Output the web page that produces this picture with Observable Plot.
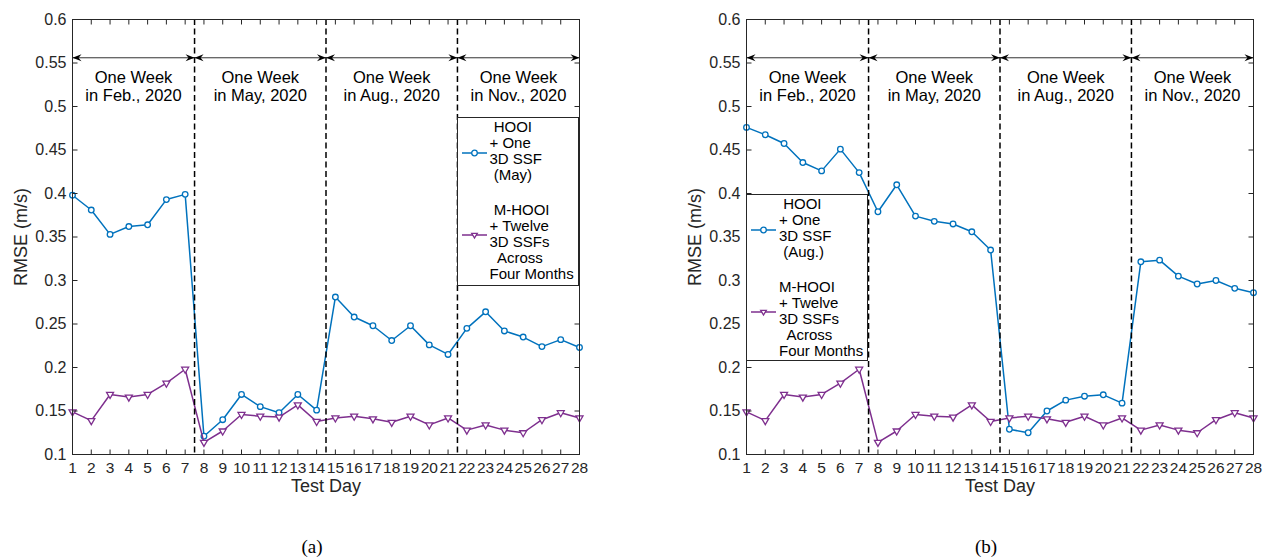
<!DOCTYPE html>
<html><head><meta charset="utf-8">
<script src="https://cdn.jsdelivr.net/npm/d3@7"></script>
<script src="https://cdn.jsdelivr.net/npm/@observablehq/plot@0.6"></script>
<style>
html,body{margin:0;padding:0;background:#fff;}
#page{position:relative;width:1265px;height:559px;overflow:hidden;font-family:"Liberation Sans",Arial,sans-serif;background:#fff;}
.panel{position:absolute;top:0;width:591px;height:500px;}
.legend{position:absolute;box-sizing:border-box;border:1px solid #262626;background:#fff;font-size:15px;line-height:16px;color:#000;}
.legend svg{position:absolute;left:0;overflow:visible;}
.legend .txt{position:absolute;left:32px;white-space:pre;}
.caption{position:absolute;top:534px;width:100px;text-align:center;font-family:"Liberation Serif","DejaVu Serif",serif;font-size:19px;line-height:26px;color:#000;}
</style></head>
<body><div id="page"></div>
<script>
// ---- data ----
const days = [1,2,3,4,5,6,7,8,9,10,11,12,13,14,15,16,17,18,19,20,21,22,23,24,25,26,27,28];
const hooiMay = [0.398,0.381,0.353,0.362,0.364,0.393,0.399,0.121,0.140,0.169,0.155,0.148,0.169,0.151,0.281,0.258,0.248,0.231,0.248,0.226,0.215,0.245,0.264,0.242,0.235,0.224,0.232,0.223];
const hooiAug = [0.476,0.4675,0.4575,0.4356,0.426,0.451,0.424,0.379,0.410,0.374,0.368,0.365,0.356,0.335,0.129,0.125,0.150,0.1625,0.167,0.1686,0.159,0.3215,0.3234,0.305,0.296,0.300,0.291,0.286];
const mhooi = [0.149,0.139,0.169,0.166,0.169,0.182,0.198,0.114,0.127,0.146,0.144,0.143,0.157,0.138,0.142,0.144,0.141,0.137,0.144,0.134,0.142,0.128,0.134,0.128,0.125,0.140,0.148,0.142];
const yTicks = [0.1,0.15,0.2,0.25,0.3,0.35,0.4,0.45,0.5,0.55,0.6];
const weekBounds = [1,7.5,14.5,21.5,28];
const weekLabels = ["One Week\nin Feb., 2020","One Week\nin May, 2020","One Week\nin Aug., 2020","One Week\nin Nov., 2020"];
const legendA = [[" HOOI","+ One","3D SSF"," (May)"],[" M-HOOI","+ Twelve","3D SSFs","  Across","Four Months"]];
const legendB = [[" HOOI","+ One","3D SSF"," (Aug.)"],["M-HOOI","+ Twelve","3D SSFs","  Across","Four Months"]];
const captions = ["(a)","(b)"];
const xLabel = "Test Day", yLabel = "RMSE (m/s)";

const BLUE = "#0072BD", PURPLE = "#7E2F8E", AX = "#262626";
const T = 5;
const tickUp = {draw(c){c.moveTo(0,0);c.lineTo(0,-T);}};
const tickDown = {draw(c){c.moveTo(0,0);c.lineTo(0,T);}};
const tickRight = {draw(c){c.moveTo(0,0);c.lineTo(T,0);}};
const tickLeft = {draw(c){c.moveTo(0,0);c.lineTo(-T,0);}};
const headRight = {draw(c){c.moveTo(0,0);c.lineTo(-9,-3.5);c.lineTo(-6,0);c.lineTo(-9,3.5);c.closePath();}};
const headLeft = {draw(c){c.moveTo(0,0);c.lineTo(9,-3.5);c.lineTo(6,0);c.lineTo(9,3.5);c.closePath();}};

function panel(blue) {
  const rows = days.map((d,i)=>({day:d, hooi:blue[i], mhooi:mhooi[i]}));
  const segs = weekLabels.map((t,i)=>({x1:weekBounds[i], x2:weekBounds[i+1], label:t}));
  const dashed = weekBounds.slice(1,-1);
  const arrowY = 0.556, labelY = 0.523;
  return Plot.plot({
    width:591, height:500, marginLeft:72, marginRight:12, marginTop:19, marginBottom:46,
    x:{type:"linear", domain:[1,28], label:null},
    y:{type:"linear", domain:[0.1,0.6], label:null},
    style:{fontFamily:'"Liberation Sans", Arial, sans-serif', fontSize:"16px", color:AX, background:"transparent", overflow:"visible"},
    marks:[
      Plot.line(rows,{x:"day",y:"hooi",stroke:BLUE,strokeWidth:1.5}),
      Plot.dot(rows,{x:"day",y:"hooi",r:2.8,stroke:BLUE,fill:"white",strokeWidth:1.3}),
      Plot.line(rows,{x:"day",y:"mhooi",stroke:PURPLE,strokeWidth:1.5}),
      Plot.dot(rows,{x:"day",y:"mhooi",symbol:"triangle",rotate:180,r:2.6,stroke:PURPLE,fill:"white",strokeWidth:1.3}),
      Plot.ruleX(dashed,{x:d=>d,stroke:"#000",strokeWidth:1.5,strokeDasharray:"6,3.5"}),
      Plot.link(segs,{x1:"x1",x2:"x2",y1:()=>arrowY,y2:()=>arrowY,stroke:"#333",strokeWidth:1}),
      Plot.dot(segs,{x:"x1",y:()=>arrowY,symbol:headLeft,fill:"#000",stroke:"none"}),
      Plot.dot(segs,{x:"x2",y:()=>arrowY,symbol:headRight,fill:"#000",stroke:"none"}),
      Plot.text(segs,{x:d=>(d.x1+d.x2)/2,y:()=>labelY,text:"label",fontSize:16.5,lineHeight:1.08,fill:"#000"}),
      Plot.frame({stroke:AX,strokeWidth:1}),
      Plot.dot(days,{x:d=>d,frameAnchor:"bottom",symbol:tickUp,stroke:AX,fill:"none",strokeWidth:1}),
      Plot.dot(days,{x:d=>d,frameAnchor:"top",symbol:tickDown,stroke:AX,fill:"none",strokeWidth:1}),
      Plot.dot(yTicks,{y:d=>d,frameAnchor:"left",symbol:tickRight,stroke:AX,fill:"none",strokeWidth:1}),
      Plot.dot(yTicks,{y:d=>d,frameAnchor:"right",symbol:tickLeft,stroke:AX,fill:"none",strokeWidth:1}),
      Plot.axisX(days,{anchor:"bottom",tickSize:0,tickPadding:7.5,fontSize:15.5,label:null,tickFormat:d=>String(d)}),
      Plot.axisY(yTicks,{anchor:"left",tickSize:0,tickPadding:6,fontSize:16,label:null,tickFormat:d=>String(d)}),
      Plot.text([xLabel],{text:d=>d,frameAnchor:"bottom",lineAnchor:"middle",textAnchor:"middle",dy:31.6,fontSize:18,fill:AX}),
      Plot.text([yLabel],{text:d=>d,frameAnchor:"left",lineAnchor:"middle",textAnchor:"middle",dx:-51.5,rotate:-90,fontSize:18,fill:AX})
    ]
  });
}

function legend(entries, box) {
  const div = document.createElement("div");
  div.className = "legend";
  Object.assign(div.style,{left:box.left+"px",top:box.top+"px",width:box.width+"px",height:box.height+"px"});
  const layout = [{textTop:1, sampleY:35, color:BLUE, sym:"circle"},{textTop:84, sampleY:117, color:PURPLE, sym:"tri"}];
  entries.forEach((lines,k)=>{
    const L = layout[k];
    const t = document.createElement("div");
    t.className = "txt"; t.style.top = L.textTop+"px";
    t.textContent = lines.join("\n");
    div.appendChild(t);
    const s = document.createElementNS("http://www.w3.org/2000/svg","svg");
    s.setAttribute("width",34); s.setAttribute("height",10);
    s.style.top = (L.sampleY-5)+"px";
    const mk = L.sym==="circle"
      ? `<circle cx="16.5" cy="5" r="2.8" fill="white" stroke="${L.color}" stroke-width="1.3"/>`
      : `<path d="M13.7,3.4 L19.3,3.4 L16.5,8 Z" fill="white" stroke="${L.color}" stroke-width="1.3"/>`;
    s.innerHTML = `<line x1="4" x2="29" y1="5" y2="5" stroke="${L.color}" stroke-width="1.5"/>${mk}`;
    div.appendChild(s);
  });
  return div;
}

const page = document.getElementById("page");
const panels = [{blue:hooiMay, left:0, leg:legendA, box:{left:456.5,top:116.5,width:122,height:169}},
                {blue:hooiAug, left:674, leg:legendB, box:{left:72,top:194,width:122,height:167}}];
panels.forEach((p,i)=>{
  const wrap = document.createElement("div");
  wrap.className = "panel"; wrap.style.left = p.left+"px";
  wrap.appendChild(panel(p.blue));
  wrap.appendChild(legend(p.leg, p.box));
  page.appendChild(wrap);
  const cap = document.createElement("div");
  cap.className = "caption"; cap.style.left = (p.left+312-50)+"px";
  cap.textContent = captions[i];
  page.appendChild(cap);
});
</script>
</body></html>
